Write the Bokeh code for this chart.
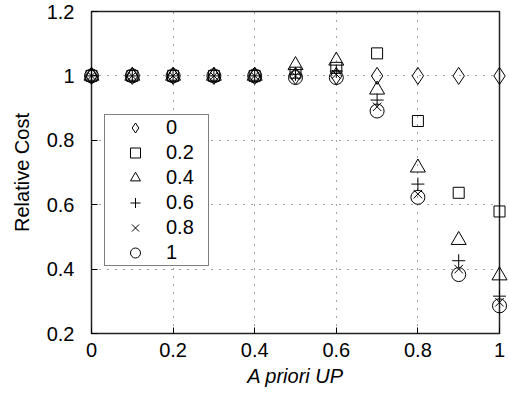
from bokeh.plotting import figure
from bokeh.models import Range1d, FixedTicker, Legend
from bokeh.embed import file_html
from bokeh.resources import INLINE

x = [0.0, 0.1, 0.2, 0.3, 0.4, 0.5, 0.6, 0.7, 0.8, 0.9, 1.0]
s_0 = [1.0, 1.0, 1.0, 1.0, 1.0, 1.0, 1.0, 1.0, 1.0, 1.0, 1.0]
s_02 = [1.0, 1.0, 1.0, 1.0, 1.0, 1.01, 1.025, 1.07, 0.86, 0.637, 0.579]
s_04 = [1.0, 1.0, 1.0, 1.0, 1.0, 1.033, 1.047, 0.957, 0.715, 0.49, 0.38]
s_06 = [1.0, 1.0, 1.0, 1.0, 1.0, 1.005, 1.015, 0.925, 0.664, 0.426, 0.316]
s_08 = [1.0, 1.0, 1.0, 1.0, 1.0, 1.0, 1.005, 0.904, 0.633, 0.40, 0.297]
s_1 = [1.0, 1.0, 1.0, 1.0, 1.0, 0.995, 0.995, 0.891, 0.623, 0.383, 0.286]

series_labels = ["0", "0.2", "0.4", "0.6", "0.8", "1"]
series_values = [s_0, s_02, s_04, s_06, s_08, s_1]
x_ticks = [0, 0.2, 0.4, 0.6, 0.8, 1.0]
y_ticks = [0.2, 0.4, 0.6, 0.8, 1.0, 1.2]
x_tick_labels = {0: "0", 0.2: "0.2", 0.4: "0.4", 0.6: "0.6", 0.8: "0.8", 1.0: "1"}
y_tick_labels = {0.2: "0.2", 0.4: "0.4", 0.6: "0.6", 0.8: "0.8", 1.0: "1", 1.2: "1.2"}
x_title = "A priori UP"
y_title = "Relative Cost"

markers = ["diamond", "square", "triangle", "cross", "x", "circle"]
sizes = [17, 11, 15, 13, 12, 14]

FONT = "Liberation Sans"

p = figure(width=509, height=398, output_backend="svg", toolbar_location=None,
           x_range=Range1d(0, 1), y_range=Range1d(0.2, 1.2),
           min_border_left=91, min_border_right=10, min_border_top=11, min_border_bottom=65,
           x_axis_label=x_title, y_axis_label=y_title)

p.outline_line_color = "#222222"
p.outline_line_width = 1.5

for ax, ticks, labels in ((p.xaxis[0], x_ticks, x_tick_labels), (p.yaxis[0], y_ticks, y_tick_labels)):
    ax.ticker = FixedTicker(ticks=ticks)
    ax.major_label_overrides = labels
    ax.axis_line_color = None
    ax.major_tick_in = 6
    ax.major_tick_out = 0
    ax.minor_tick_line_color = None
    ax.major_tick_line_color = "black"
    ax.major_label_text_font = FONT
    ax.major_label_text_font_size = "20px"
    ax.major_label_text_color = "black"
    ax.axis_label_text_font = FONT
    ax.axis_label_text_font_size = "20px"
    ax.axis_label_text_color = "black"

p.xaxis[0].axis_label_text_font_style = "italic"
p.yaxis[0].axis_label_text_font_style = "normal"
p.xaxis[0].major_label_standoff = 9
p.xaxis[0].axis_label_standoff = 5
p.yaxis[0].major_label_standoff = 17
p.yaxis[0].axis_label_standoff = 11

for g in (p.xgrid[0], p.ygrid[0]):
    g.grid_line_color = "#444444"
    g.grid_line_dash = "1 7"
    g.grid_line_width = 1

items = []
for lab, vals, mk, sz in zip(series_labels, series_values, markers, sizes):
    r = p.scatter(x, vals, marker=mk, size=sz, fill_color=None,
                  line_color="black", line_width=1, level="overlay")
    items.append((lab, [r]))

legend = Legend(items=items, location=(13, 67))
legend.border_line_color = "black"
legend.border_line_width = 1.2
legend.background_fill_color = "white"
legend.background_fill_alpha = 1
legend.padding = 0
legend.spacing = 0
legend.margin = 0
legend.glyph_height = 25
legend.glyph_width = 60
legend.label_height = 25
legend.label_width = 42
legend.label_standoff = 1
legend.label_text_font = FONT
legend.label_text_font_size = "20px"
legend.label_text_color = "black"
p.add_layout(legend, "center")

open("out.html", "w").write(file_html(p, INLINE))
